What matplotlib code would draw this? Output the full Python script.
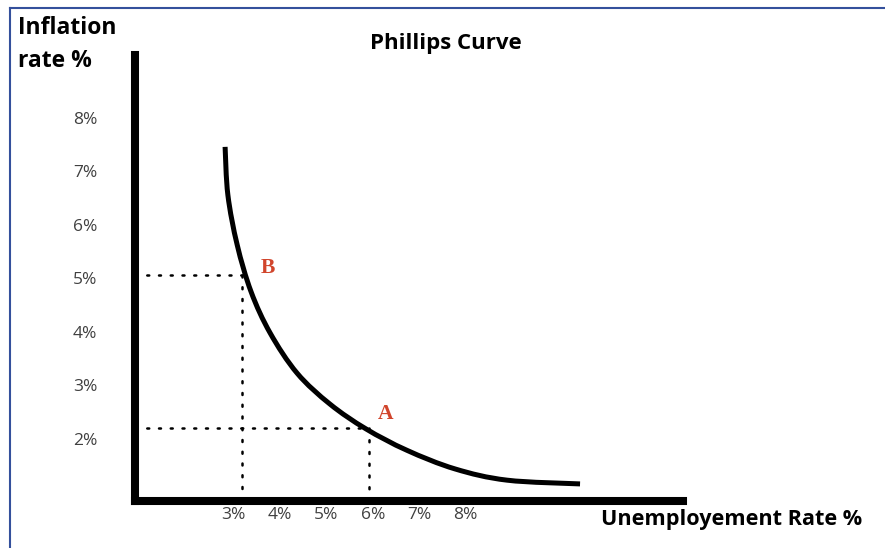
"""
Phillips Curve chart.
"""

import matplotlib

matplotlib.use("Agg")

import matplotlib.pyplot as plt
import numpy as np
from matplotlib.lines import Line2D
from matplotlib.patches import PathPatch
from matplotlib.path import Path

# curve (unemployment %, inflation %)
unemployment = [2.82, 2.88, 3.08, 3.38, 3.79, 4.37, 5.08, 5.85, 6.73,
                7.77, 8.89, 10.46]
inflation = [7.46, 6.56, 5.63, 4.75, 3.98, 3.23, 2.65, 2.19, 1.79,
             1.44, 1.23, 1.16]

x_ticks = [3, 4, 5, 6, 7, 8]
y_ticks = [2, 3, 4, 5, 6, 7, 8]

point_names = ["B", "A"]
point_x = [3.18, 5.92]
point_y = [5.06, 2.20]

label_offsets = [(19.0, 5.0), (11.5, 10.0)]

red = "#d1452c"
grey = "#404040"

plt.rcParams["font.family"] = ["Open Sans", "DejaVu Sans"]


def smooth_path(xs, ys):
    # catmull-rom through the read points, drawn as cubic beziers
    pts = np.column_stack([xs, ys])
    ext = np.vstack([pts[0], pts, pts[-1]])
    verts = [pts[0]]
    codes = [Path.MOVETO]
    for i in range(1, len(ext) - 2):
        p0, p1, p2, p3 = ext[i - 1], ext[i], ext[i + 1], ext[i + 2]
        verts += [p1 + (p2 - p0) / 6, p2 - (p3 - p1) / 6, p2]
        codes += [Path.CURVE4] * 3
    return Path(verts, codes)


fig = plt.figure(figsize=(8.85, 5.48), dpi=100)

ax = fig.add_axes([0.1525, 0.0858, 0.6192, 0.8139])

ax.set_xlim(0.880, 12.675)
ax.set_ylim(0.841, 9.178)

# phillips curve
ax.add_patch(
    PathPatch(
        smooth_path(unemployment, inflation),
        facecolor="none",
        edgecolor="black",
        linewidth=3.6,
        capstyle="butt",
        zorder=3,
    )
)

# dotted guides from A and B to the axes
dots = (0, (0.8, 3.9))

for name, px, py, off in zip(point_names, point_x, point_y, label_offsets):

    ax.plot(
        [0.880, px],
        [py, py],
        color="black",
        linewidth=1.8,
        linestyle=dots,
        dash_capstyle="round",
    )

    ax.plot(
        [px, px],
        [py, 0.841],
        color="black",
        linewidth=1.8,
        linestyle=dots,
        dash_capstyle="round",
    )

    ax.annotate(
        name,
        (px, py),
        xytext=off,
        textcoords="offset points",
        ha="center",
        va="center",
        color=red,
        fontsize=15.5,
        fontweight="bold",
        family="Liberation Serif",
    )

# axes look
for side in ["top", "right"]:
    ax.spines[side].set_visible(False)

for side in ["left", "bottom"]:
    ax.spines[side].set_linewidth(5.8)
    ax.spines[side].set_color("black")

ax.set_xticks(x_ticks)
ax.set_xticklabels([f"{v}%" for v in x_ticks])

ax.set_yticks(y_ticks)
ax.set_yticklabels([f"{v}%" for v in y_ticks])

ax.tick_params(axis="x", length=0, pad=4, labelsize=12.5, labelcolor=grey)
ax.tick_params(axis="y", length=0, pad=27, labelsize=12.5, labelcolor=grey)

# titles
fig.text(
    446 / 885,
    1 - 44 / 548,
    "Phillips Curve",
    ha="center",
    va="center",
    fontsize=16,
    fontweight="bold",
)

fig.text(
    18 / 885,
    1 - 16 / 548,
    "Inflation\nrate %",
    ha="left",
    va="top",
    fontsize=16.5,
    fontweight="bold",
    linespacing=1.5,
)

fig.text(
    862 / 885,
    1 - 519 / 548,
    "Unemployement Rate %",
    ha="right",
    va="center",
    fontsize=15.6,
    fontweight="bold",
)

# blue frame on top and left
frame = "#34509c"

fig.add_artist(Line2D([10 / 885, 1], [1 - 8 / 548, 1 - 8 / 548],
                      transform=fig.transFigure, color=frame, linewidth=1.5))
fig.add_artist(Line2D([10 / 885, 10 / 885], [0, 1 - 8 / 548],
                      transform=fig.transFigure, color=frame, linewidth=1.5))

fig.savefig("out.png", dpi=100)

plt.close(fig)
